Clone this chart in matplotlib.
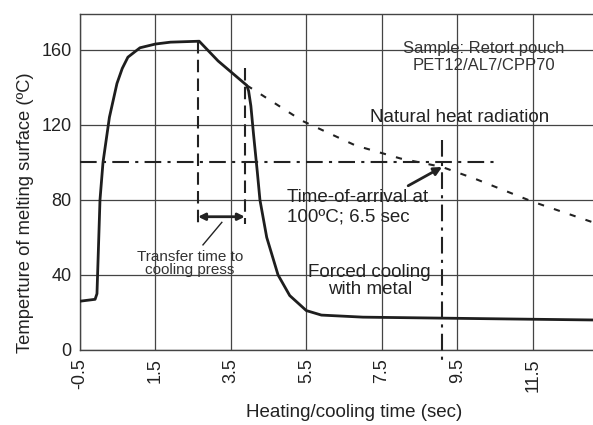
import matplotlib.pyplot as plt
import numpy as np

plt.rcParams["font.family"] = ["Liberation Sans", "DejaVu Sans"]

# measured surface temperature (heating then forced cooling)
time_s = [-0.5, -0.1, -0.05, 0.03, 0.11, 0.28, 0.48, 0.62, 0.77, 1.09, 1.5, 1.9, 2.66,
          3.16, 3.92, 3.97, 4.03, 4.1, 4.2, 4.27, 4.45, 4.75, 5.06, 5.5, 5.9, 7.0,
          9.0, 11.0, 13.1]
temp_c = [26, 27, 30, 80, 100, 124, 142, 150, 156, 161, 163, 164, 164.5,
          154, 141, 138, 130, 115, 95, 80, 60, 40, 29, 21, 18.6, 17.5,
          17, 16.5, 16]

# natural heat radiation (dashed)
rad_t = [3.92, 5.4, 6.8, 8.0, 9.1, 10.0, 11.5, 13.1]
rad_c = [141, 122, 109, 102, 97.5, 91, 79, 68]

xticks = [-0.5, 1.5, 3.5, 5.5, 7.5, 9.5, 11.5]
yticks = [0, 40, 80, 120, 160]

transfer_start, transfer_end = 2.63, 3.87
arrival_t = 9.1
target_c = 100

fig = plt.figure(figsize=(5.93, 4.25), dpi=100)
ax = fig.add_axes([80 / 593, 75 / 425, 513 / 593, 336 / 425])

ax.set_xlim(-0.5, 13.1)
ax.set_ylim(0, 179)
ax.set_xticks(xticks)
ax.set_xticklabels([f"{v:g}" for v in xticks], rotation=90, fontsize=13, color="#222")
ax.set_yticks(yticks)
ax.set_yticklabels([str(v) for v in yticks], fontsize=13, color="#222")
ax.tick_params(length=0, pad=6)
ax.grid(True, color="#444", linewidth=0.9)
ax.spines["right"].set_visible(False)
for side in ["left", "bottom", "top"]:
    ax.spines[side].set_color("#444")
    ax.spines[side].set_linewidth(1.0)

ax.plot(time_s, temp_c, color="#1e1e1e", linewidth=2.0, zorder=3)
ax.plot(rad_t, rad_c, color="#222", linewidth=1.5, linestyle=(0, (3, 5)), zorder=3)

# 100 C reference and arrival time
dashdot = (0, (8, 3, 1.5, 3))
ax.plot([-0.5, 10.6], [target_c, target_c], color="#222", linewidth=1.5,
        linestyle=dashdot, zorder=3)
ax.plot([arrival_t, arrival_t], [112, -8], color="#222", linewidth=1.5,
        linestyle=dashdot, zorder=3, clip_on=False)

# transfer time markers
ax.plot([transfer_start, transfer_start], [164.5, 67], color="#222", linewidth=1.5,
        linestyle=(0, (6, 3)), zorder=3)
ax.plot([transfer_end, transfer_end], [150, 67], color="#222", linewidth=1.5,
        linestyle=(0, (6, 3)), zorder=3)
ax.annotate("", xy=(transfer_start, 71), xytext=(transfer_end, 71),
            arrowprops=dict(arrowstyle="<|-|>", color="#222", lw=2.0,
                            mutation_scale=10, shrinkA=0, shrinkB=0))
ax.plot([3.26, 2.76], [68, 56], color="#222", linewidth=1.0)
ax.text(2.41, 46, "Transfer time to\ncooling press", ha="center", va="center",
        fontsize=11, color="#333", linespacing=0.95)

ax.annotate("", xy=(arrival_t, 97.5), xytext=(8.2, 87.5),
            arrowprops=dict(arrowstyle="-|>", color="#222", lw=2.0,
                            mutation_scale=12, shrinkA=0, shrinkB=0))

ax.text(10.2, 156, "Sample: Retort pouch\nPET12/AL7/CPP70", ha="center", va="center",
        fontsize=12, color="#333", linespacing=1.15)
ax.text(9.57, 124, "Natural heat radiation", ha="center", va="center",
        fontsize=13.5, color="#222")
ax.text(5.0, 76, "Time-of-arrival at\n100ºC; 6.5 sec", ha="left", va="center",
        fontsize=13.5, color="#222", linespacing=1.2)
ax.text(7.18, 37, "Forced cooling\nwith metal", ha="center", va="center",
        fontsize=13.5, color="#222", linespacing=1.0)

ax.set_xlabel("Heating/cooling time (sec)", fontsize=13.5, color="#222")
ax.xaxis.set_label_coords(0.534, -0.16)
ax.set_ylabel("Temperture of melting surface (ºC)", fontsize=13.2, color="#222")
ax.yaxis.set_label_coords(-0.09, 0.41)

fig.savefig("out.png", dpi=100)
